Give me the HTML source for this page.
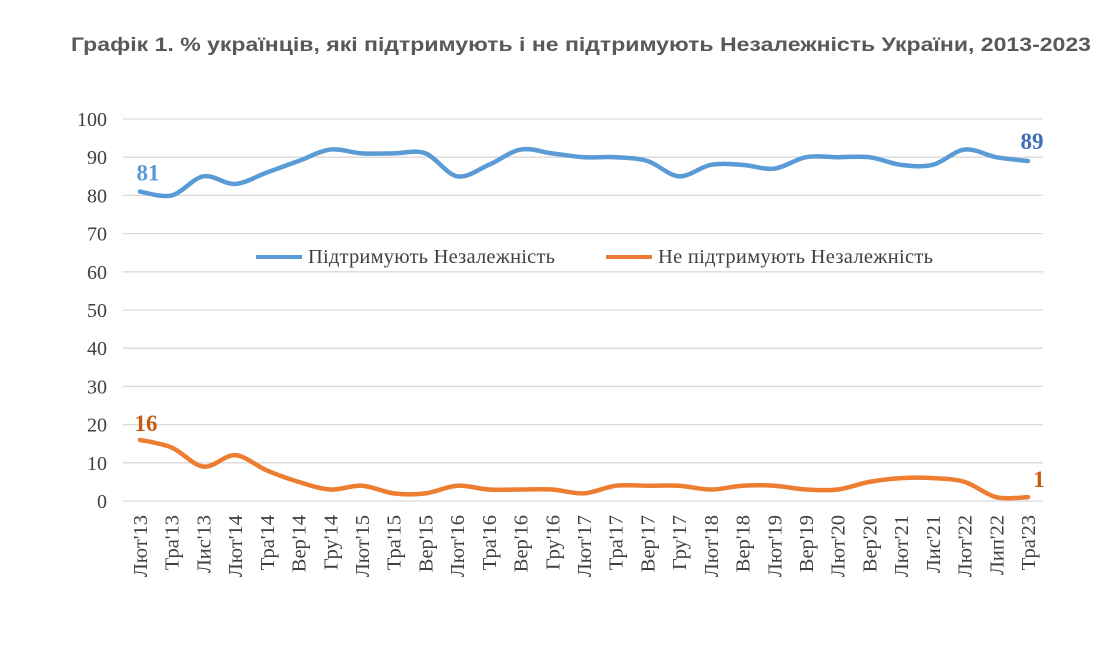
<!DOCTYPE html>
<html><head><meta charset="utf-8"><style>
body{margin:0;background:#fff;width:1119px;height:642px;overflow:hidden}
svg text{font-family:"Liberation Serif",serif}
</style></head><body>
<svg width="1119" height="642">
<text x="581" y="51" text-anchor="middle" font-size="19.5" font-weight="bold" fill="#595959" textLength="1020" lengthAdjust="spacingAndGlyphs" style="font-family:'Liberation Sans',sans-serif">Графік 1. % українців, які підтримують і не підтримують Незалежність України, 2013-2023</text>
<g id="grid"></g><g id="xl"></g><g id="lines"></g>
<g>
<line x1="256" y1="257" x2="302" y2="257" stroke="#5b9bd5" stroke-width="4"/>
<text x="308" y="263" font-size="20.5" fill="#404040" textLength="247">Підтримують Незалежність</text>
<line x1="606" y1="257" x2="652" y2="257" stroke="#ed7d31" stroke-width="4"/>
<text x="658" y="263" font-size="20.5" fill="#404040" textLength="275">Не підтримують Незалежність</text>
</g>
</svg>
<script>
const categories=["Лют'13","Тра'13","Лис'13","Лют'14","Тра'14","Вер'14","Гру'14","Лют'15","Тра'15","Вер'15","Лют'16","Тра'16","Вер'16","Гру'16","Лют'17","Тра'17","Вер'17","Гру'17","Лют'18","Вер'18","Лют'19","Вер'19","Лют'20","Вер'20","Лют'21","Лис'21","Лют'22","Лип'22","Тра'23"];
const support=[81,80,85,83,86,89,92,91,91,91,85,88,92,91,90,90,89,85,88,88,87,90,90,90,88,88,92,90,89];
const oppose=[16,14,9,12,8,5,3,4,2,2,4,3,3,3,2,4,4,4,3,4,4,3,3,5,6,6,5,1,1];
const yTicks=[0,10,20,30,40,50,60,70,80,90,100];
const NS="http://www.w3.org/2000/svg";
const x0=140,x1=1028,gl=123,gr=1043;
const xs=i=>x0+i*(x1-x0)/(categories.length-1);
const ys=v=>501-v*3.82;
function mk(t,a,p){const e=document.createElementNS(NS,t);for(const k in a)e.setAttribute(k,a[k]);p.appendChild(e);return e;}
const grid=document.getElementById('grid');
yTicks.forEach(v=>{
 const l=mk('line',{x1:gl,x2:gr,y1:ys(v),y2:ys(v),stroke:'#d9d9d9','stroke-width':1.3},grid);
 
 
 const t=mk('text',{x:107,y:ys(v)+7,'text-anchor':'end','font-size':20,fill:'#404040'},grid);
 t.textContent=v;
 
 
});
const xl=document.getElementById('xl');
categories.forEach((c,i)=>{
 const t=mk('text',{transform:`translate(${xs(i)+7},515) rotate(-90)`,'text-anchor':'end','font-size':20.5,fill:'#404040'},xl);
 t.textContent=c;
 
 
});
function path(vals){
 const p=vals.map((v,i)=>[xs(i),ys(v)]);
 let d=`M${p[0][0]},${p[0][1]}`;
 for(let i=0;i<p.length-1;i++){
  const a=p[i-1]||p[i],b=p[i],c=p[i+1],e=p[i+2]||c;
  d+=`C${b[0]+(c[0]-a[0])/6},${b[1]+(c[1]-a[1])/6} ${c[0]-(e[0]-b[0])/6},${c[1]-(e[1]-b[1])/6} ${c[0]},${c[1]}`;
 }
 return d;
}
const lines=document.getElementById('lines');
const s=mk('path',{d:path(support),fill:'none',stroke:'#5b9bd5','stroke-width':4.5,'stroke-linecap':'round'},lines);


const o=mk('path',{d:path(oppose),fill:'none',stroke:'#ed7d31','stroke-width':4.5,'stroke-linecap':'round'},lines);


const n=support.length-1;
[[xs(0)+8,ys(support[0])-11,support[0],'#5b9bd5','start-label-support'],
 [xs(n)+4,ys(support[n])-12,support[n],'#3f6eb5','end-label-support'],
 [xs(0)+6,ys(oppose[0])-9,oppose[0],'#c55a11','start-label-oppose'],
 [xs(n)+11,ys(oppose[n])-10,oppose[n],'#c55a11','end-label-oppose']].forEach(a=>{
 const t=mk('text',{x:a[0],y:a[1],'text-anchor':'middle','font-size':23,'font-weight':'bold',fill:a[3]},lines);
 t.textContent=a[2];
 
 
});
</script>
</body></html>
